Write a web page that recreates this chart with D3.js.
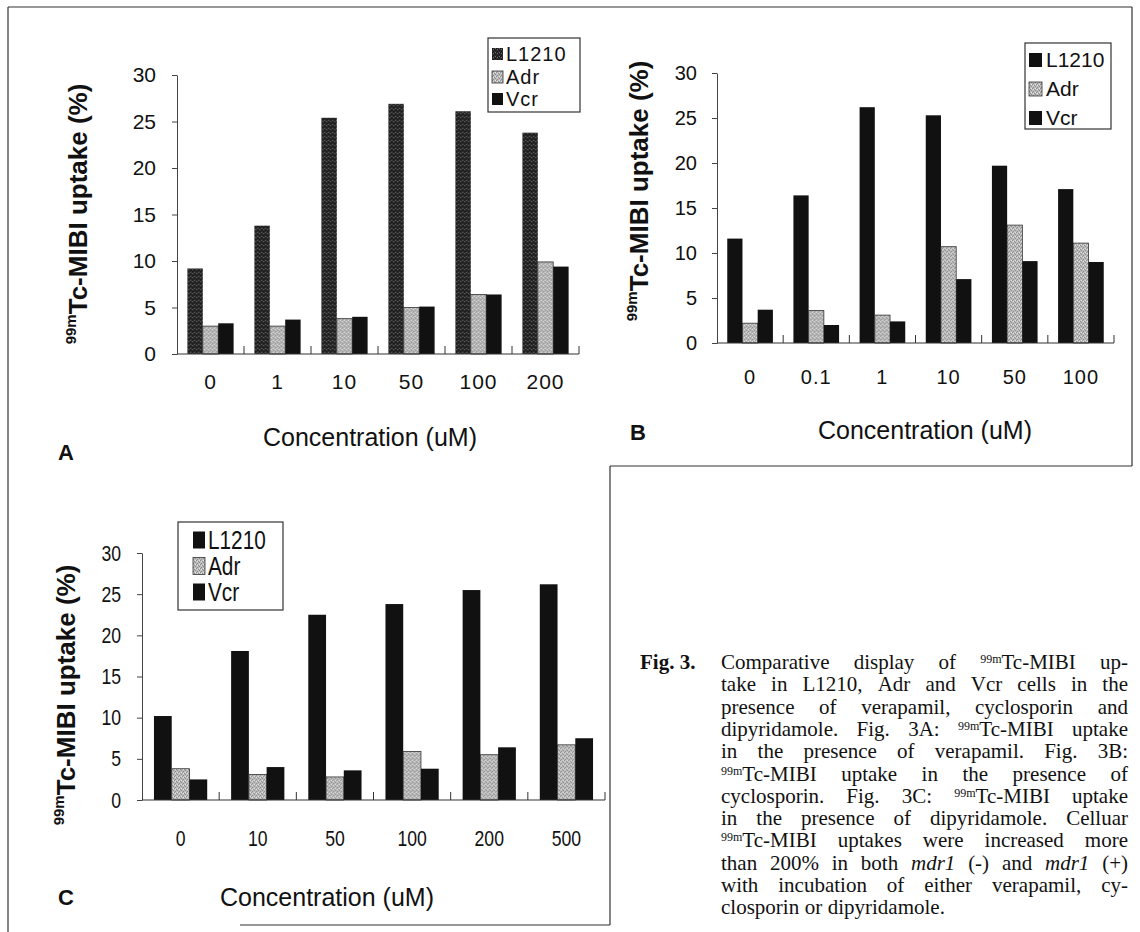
<!DOCTYPE html>
<html>
<head>
<meta charset="utf-8">
<script src="https://cdn.jsdelivr.net/npm/d3@7/dist/d3.min.js"></script>
<style>
  html, body { margin: 0; padding: 0; background: #fff; }
  svg { display: block; }
</style>
</head>
<body>
<svg id="chart" width="1140" height="932"></svg>
<script>
// ---------------- DATA ----------------
const seriesNames = ["L1210", "Adr", "Vcr"];
const yTicks = [0, 5, 10, 15, 20, 25, 30];

const catsA = ["0", "1", "10", "50", "100", "200"];
const l1210A = [9.2, 13.8, 25.4, 26.9, 26.1, 23.8];
const adrA   = [3.0, 3.0, 3.8, 5.0, 6.4, 9.9];
const vcrA   = [3.3, 3.7, 4.0, 5.1, 6.4, 9.4];

const catsB = ["0", "0.1", "1", "10", "50", "100"];
const l1210B = [11.6, 16.4, 26.2, 25.3, 19.7, 17.1];
const adrB   = [2.2, 3.6, 3.1, 10.7, 13.1, 11.1];
const vcrB   = [3.7, 2.0, 2.4, 7.1, 9.1, 9.0];

const catsC = ["0", "10", "50", "100", "200", "500"];
const l1210C = [10.2, 18.1, 22.5, 23.8, 25.5, 26.2];
const adrC   = [3.8, 3.1, 2.8, 5.9, 5.5, 6.7];
const vcrC   = [2.5, 4.0, 3.6, 3.8, 6.4, 7.5];

const xTitle = "Concentration (uM)";
const yTitleSup = "99m";
const yTitleMain = "Tc-MIBI uptake (%)";

const captionLead = "Fig. 3.";
const captionLines = [
  "Comparative display of ^99m|Tc-MIBI up-",
  "take in L1210, Adr and Vcr cells in the",
  "presence of verapamil, cyclosporin and",
  "dipyridamole. Fig. 3A: ^99m|Tc-MIBI uptake",
  "in the presence of verapamil. Fig. 3B:",
  "^99m|Tc-MIBI uptake in the presence of",
  "cyclosporin. Fig. 3C: ^99m|Tc-MIBI uptake",
  "in the presence of dipyridamole. Celluar",
  "^99m|Tc-MIBI uptakes were increased more",
  "than 200% in both _mdr1_ (-) and _mdr1_ (+)",
  "with incubation of either verapamil, cy-",
  "closporin or dipyridamole."
];

// ---------------- SETUP ----------------
const svg = d3.select("#chart");
const SANS = "'Liberation Sans', Arial, Helvetica, sans-serif";
const SERIF = "'Liberation Serif', 'Times New Roman', serif";

const defs = svg.append("defs");
function stipple(id, base, dots, light) {
  const p = defs.append("pattern").attr("id", id)
    .attr("patternUnits", "userSpaceOnUse").attr("width", 4).attr("height", 4);
  p.append("rect").attr("width", 4).attr("height", 4).attr("fill", base);
  [[0,0],[2,1],[1,3],[3,2]].forEach(d => p.append("rect").attr("x", d[0]).attr("y", d[1]).attr("width", 1).attr("height", 1).attr("fill", dots));
  if (light) [[1,1],[3,0]].forEach(d => p.append("rect").attr("x", d[0]).attr("y", d[1]).attr("width", 1).attr("height", 1).attr("fill", light));
}
stipple("darkStip", "#2c2c2c", "#111", "#6e6e6e");
stipple("lightStip", "#bdbdbd", "#8a8a8a", "#e6e6e6");

// frames
const frame = svg.append("g").attr("stroke", "#333").attr("stroke-width", 1.2).attr("fill", "none");
[[8,7,1132,7],[8,7,8,932],[1132,7,1132,466],[610,466,1132,466],[610,466,610,925],[240,925,610,925]]
  .forEach(l => frame.append("line").attr("x1", l[0]).attr("y1", l[1]).attr("x2", l[2]).attr("y2", l[3]));

// ---------------- PANEL ----------------
function drawPanel(cfg) {
  const g = svg.append("g");
  const data = cfg.cats.map((c, i) => ({ cat: c, vals: cfg.series.map((s, j) => ({ key: seriesNames[j], v: s[i] })) }));

  const y = d3.scaleLinear().domain([0, 30]).range([cfg.y0, cfg.yTop]);
  const x0 = d3.scaleBand().domain(cfg.cats).range([cfg.xL, cfg.xR]).paddingInner(0.31).paddingOuter(0.155);
  const x1 = d3.scaleBand().domain(seriesNames).range([0, x0.bandwidth()]);

  const fill = cfg.fills;
  g.selectAll("g.grp").data(data).join("g").attr("class", "grp")
    .attr("transform", d => `translate(${x0(d.cat)},0)`)
    .selectAll("rect").data(d => d.vals).join("rect")
      .attr("x", d => x1(d.key))
      .attr("y", d => y(d.v))
      .attr("width", x1.bandwidth())
      .attr("height", d => y(0) - y(d.v))
      .attr("fill", d => fill[d.key])
      .attr("stroke", d => d.key === "Adr" ? "#333" : "none")
      .attr("stroke-width", 0.8);

  // y axis
  const ya = g.append("g").attr("transform", `translate(${cfg.xL},0)`)
    .call(d3.axisLeft(y).tickValues(yTicks).tickSize(5).tickSizeOuter(0).tickPadding(cfg.tickPad));
  ya.select(".domain").attr("stroke", "#444").attr("stroke-width", 1);
  ya.selectAll(".tick line").attr("stroke", "#444");
  ya.selectAll(".tick text").attr("font-family", SANS).attr("font-size", cfg.tickFont).attr("fill", "#111")
    .attr("transform", cfg.narrow ? `scale(${cfg.narrow},1)` : null)
    .attr("x", function() { const v = +d3.select(this).attr("x"); return cfg.narrow ? v / cfg.narrow : v; });

  // x axis baseline with upward boundary ticks
  g.append("line").attr("x1", cfg.xL).attr("x2", cfg.xR).attr("y1", cfg.y0).attr("y2", cfg.y0)
    .attr("stroke", "#333").attr("stroke-width", 1.2);
  const bounds = d3.range(1, cfg.cats.length + 1).map(i => cfg.xL + i * x0.step());
  g.selectAll("line.bt").data(bounds).join("line").attr("class", "bt")
    .attr("x1", d => d).attr("x2", d => d).attr("y1", cfg.y0).attr("y2", cfg.y0 - 8)
    .attr("stroke", "#333").attr("stroke-width", 1);

  // x labels
  g.selectAll("text.xl").data(cfg.cats).join("text").attr("class", "xl")
    .attr("transform", d => `translate(${x0(d) + x0.bandwidth() / 2},${cfg.xLabY})` + (cfg.narrow ? ` scale(${cfg.narrow},1)` : ""))
    .attr("text-anchor", "middle").attr("dy", "0.35em")
    .attr("font-family", SANS).attr("font-size", cfg.tickFont).attr("fill", "#111")
    .attr("letter-spacing", cfg.narrow ? 0 : 1)
    .text(d => d);

  // y title
  const yt = g.append("text")
    .attr("transform", `translate(${cfg.yTitle[0]},${cfg.yTitle[1]}) rotate(-90)`)
    .attr("text-anchor", "middle").attr("dy", "0.35em")
    .attr("font-family", SANS).attr("font-weight", "bold").attr("font-size", 26).attr("fill", "#111");
  yt.append("tspan").attr("font-size", 15).attr("dy", "-0.25em").text(yTitleSup);
  yt.append("tspan").attr("dy", "0.4em").text(yTitleMain);

  // x title
  g.append("text").attr("x", cfg.xTitle[0]).attr("y", cfg.xTitle[1]).attr("text-anchor", "middle").attr("dy", "0.35em")
    .attr("font-family", SANS).attr("font-size", 25).attr("fill", "#111").text(xTitle);

  // panel letter
  g.append("text").attr("x", cfg.letterPos[0]).attr("y", cfg.letterPos[1]).attr("dy", "0.35em")
    .attr("font-family", SANS).attr("font-weight", "bold").attr("font-size", 22).attr("fill", "#111").text(cfg.letter);

  // legend
  const L = cfg.legend;
  g.append("rect").attr("x", L.x).attr("y", L.y).attr("width", L.w).attr("height", L.h)
    .attr("fill", "#fff").attr("stroke", "#333").attr("stroke-width", 1.2);
  seriesNames.forEach((s, i) => {
    const cy = L.rows[i];
    g.append("rect").attr("x", L.sx).attr("y", cy - L.sh / 2).attr("width", L.sw).attr("height", L.sh)
      .attr("fill", fill[s]).attr("stroke", s === "Adr" ? "#333" : "none").attr("stroke-width", 0.8);
    g.append("text").attr("transform", `translate(${L.tx},${cy})` + (cfg.narrow ? ` scale(${cfg.narrow},1)` : ""))
      .attr("dy", "0.35em").attr("font-family", SANS).attr("font-size", L.font).attr("fill", "#111")
      .attr("letter-spacing", L.ls || 0).text(s);
  });
}

drawPanel({
  letter: "A", cats: catsA, series: [l1210A, adrA, vcrA],
  fills: { L1210: "url(#darkStip)", Adr: "url(#lightStip)", Vcr: "#111" },
  xL: 177, xR: 579, y0: 354, yTop: 75, tickPad: 16, tickFont: 21, xLabY: 382,
  yTitle: [80, 214], xTitle: [370, 437], letterPos: [58, 452],
  legend: { x: 488, y: 38, w: 92, h: 74, rows: [54, 77, 99], sx: 492, sw: 11, sh: 12, tx: 506, font: 20, ls: 1 }
});
drawPanel({
  letter: "B", cats: catsB, series: [l1210B, adrB, vcrB],
  fills: { L1210: "#111", Adr: "url(#lightStip)", Vcr: "#111" },
  xL: 717, xR: 1114, y0: 343, yTop: 73, tickPad: 15, tickFont: 20, xLabY: 377,
  yTitle: [641, 191], xTitle: [925, 430], letterPos: [630, 432],
  legend: { x: 1025, y: 43, w: 86, h: 86, rows: [60, 89, 118], sx: 1029, sw: 13, sh: 14, tx: 1046, font: 21 }
});
drawPanel({
  letter: "C", cats: catsC, series: [l1210C, adrC, vcrC],
  fills: { L1210: "#111", Adr: "url(#lightStip)", Vcr: "#111" },
  xL: 142, xR: 605, y0: 800, yTop: 553, tickPad: 16, tickFont: 22, xLabY: 838, narrow: 0.8,
  yTitle: [68, 695], xTitle: [327, 897], letterPos: [58, 897],
  legend: { x: 178, y: 522, w: 105, h: 88, rows: [540, 566, 592], sx: 193, sw: 12, sh: 17, tx: 208, font: 26 }
});

// ---------------- CAPTION ----------------
const cap = svg.append("g").attr("font-family", SERIF).attr("font-size", 21).attr("fill", "#111");
const capLeft = 721, capRight = 1128, capTop = 669, capStep = 22.3;
cap.append("text").attr("x", 640).attr("y", capTop).attr("font-weight", "bold").text(captionLead);

function buildWord(parent, word, x, y) {
  const t = parent.append("text").attr("x", x).attr("y", y);
  let w = word, sup = null;
  if (w.startsWith("^")) { const k = w.indexOf("|"); sup = w.slice(1, k); w = w.slice(k + 1); }
  if (w.startsWith("_")) { const k = w.indexOf("_", 1); const core = w.slice(1, k); const rest = w.slice(k + 1);
    t.append("tspan").attr("font-style", "italic").text(core); if (rest) t.append("tspan").text(rest); return t; }
  if (sup) { t.append("tspan").attr("font-size", 12).attr("dy", -6).text(sup); t.append("tspan").attr("dy", 6).text(w); }
  else t.text(w);
  return t;
}
captionLines.forEach((line, i) => {
  const y = capTop + i * capStep;
  const words = line.split(" ");
  const nodes = words.map(w => buildWord(cap, w, 0, y));
  const widths = nodes.map(n => n.node().getComputedTextLength());
  const total = d3.sum(widths);
  const last = i === captionLines.length - 1;
  const gap = last ? 5.5 : (capRight - capLeft - total) / (words.length - 1);
  let x = capLeft;
  nodes.forEach((n, k) => { n.attr("x", x); x += widths[k] + gap; });
});
</script>
</body>
</html>
